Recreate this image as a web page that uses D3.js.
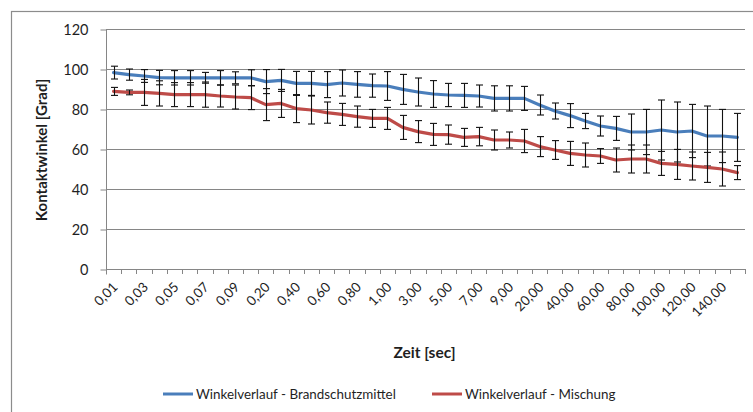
<!DOCTYPE html>
<html>
<head>
<meta charset="utf-8">
<script src="https://cdn.jsdelivr.net/npm/d3@7"></script>
<style>
  html, body { margin: 0; padding: 0; background: #fff; }
  svg { display: block; font-family: Lato, "Open Sans", sans-serif; }
</style>
</head>
<body>
<svg id="chart" width="753" height="412"></svg>
<script>
// Zeitpunkte (sec), als Kategorien
const categories = [
  "0,01","0,02","0,03","0,04","0,05","0,06","0,07","0,08","0,09","0,10",
  "0,20","0,30","0,40","0,50","0,60","0,70","0,80","0,90","1,00",
  "2,00","3,00","4,00","5,00","6,00","7,00","8,00","9,00","10,00",
  "20,00","30,00","40,00","50,00","60,00","70,00","80,00","90,00",
  "100,00","110,00","120,00","130,00","140,00","150,00"
];

// Winkelverlauf - Brandschutzmittel (Mittelwert, Standardabweichung)
const brandschutz = [
  98.2, 97.2, 96.5, 95.7, 95.6, 95.6, 95.6, 95.6, 95.6, 95.6,
  93.7, 94.3, 92.8, 92.8, 92.2, 93.0, 92.3, 91.7, 91.5,
  89.8, 88.5, 87.5, 87.0, 86.8, 86.5, 85.3, 85.3, 85.3,
  82.0, 79.0, 76.7, 74.0, 71.5, 70.3, 68.5, 68.5,
  69.5, 68.5, 69.0, 66.5, 66.5, 65.8
];
const brandschutzSd = [
  3.2, 2.8, 3.2, 3.6, 3.6, 3.6, 2.7, 3.6, 3.0, 4.0,
  6.0, 5.5, 6.0, 6.0, 6.5, 6.5, 6.4, 5.8, 7.2,
  7.5, 7.0, 6.7, 5.8, 6.0, 5.5, 6.3, 6.3, 6.0,
  5.0, 4.0, 6.0, 3.8, 5.0, 6.0, 9.0, 11.3,
  15.0, 15.0, 13.3, 15.0, 13.3, 12.0
];

// Winkelverlauf - Mischung (Mittelwert, Standardabweichung)
const mischung = [
  88.8, 88.3, 88.3, 87.8, 87.2, 87.2, 87.2, 86.5, 86.0, 85.7,
  82.2, 82.8, 80.2, 79.5, 78.2, 77.3, 76.2, 75.3, 75.3,
  70.8, 68.7, 67.3, 67.2, 65.8, 66.2, 64.5, 64.5, 64.0,
  61.2, 59.5, 57.8, 57.0, 56.5, 54.5, 55.0, 55.0,
  52.8, 52.3, 51.5, 50.8, 50.0, 48.2
];
const mischungSd = [
  2.0, 1.2, 6.5, 6.3, 6.0, 6.0, 6.3, 5.5, 6.0, 6.0,
  8.0, 7.0, 7.0, 7.0, 5.3, 5.5, 5.3, 4.5, 5.5,
  6.0, 5.5, 5.5, 4.8, 4.5, 4.6, 5.0, 4.0, 5.8,
  5.0, 4.7, 6.0, 6.0, 3.7, 6.0, 7.0, 7.0,
  6.0, 7.5, 7.0, 7.5, 8.5, 3.5
];

const yTicks = [0, 20, 40, 60, 80, 100, 120];

const seriesNames = ["Winkelverlauf - Brandschutzmittel", "Winkelverlauf - Mischung"];
const seriesColors = ["#4a7ebb", "#be4b48"];

const svg = d3.select("#chart");
const axisColor = "#868686";
const textColor = "#1f1f1f";

// Diagrammrahmen
svg.append("rect")
  .attr("x", 11.5).attr("y", 11.5)
  .attr("width", 780).attr("height", 430)
  .attr("fill", "none").attr("stroke", "#8c8c8c").attr("stroke-width", 1.2);

const plotLeft = 106, plotRight = 745, plotTop = 29, plotBottom = 269;

const x = d3.scaleBand().domain(categories).range([plotLeft, plotRight]).padding(0);
const y = d3.scaleLinear().domain([0, 120]).range([plotBottom, plotTop]);

// Gitterlinien
svg.append("g")
  .selectAll("line")
  .data(yTicks.filter(v => v > 0))
  .join("line")
  .attr("x1", plotLeft).attr("x2", plotRight)
  .attr("y1", d => Math.round(y(d)) + 0.5).attr("y2", d => Math.round(y(d)) + 0.5)
  .attr("stroke", axisColor).attr("stroke-width", 1);

// Y-Achse
const yAxis = svg.append("g")
  .attr("transform", `translate(${plotLeft + 0.5},0.5)`)
  .call(d3.axisLeft(y).tickValues(yTicks).tickSize(6).tickSizeOuter(0).tickPadding(12));
yAxis.select(".domain").attr("stroke", axisColor).attr("d", `M0,${plotTop - 0.5}V${plotBottom + 5}`);
yAxis.selectAll(".tick line").attr("stroke", axisColor);
yAxis.selectAll(".tick text")
  .attr("fill", textColor).style("font-size", "14.5px").style("font-family", "Lato, sans-serif");

// X-Achse: Teilstriche an den Kategoriegrenzen
const xg = svg.append("g");
xg.append("line")
  .attr("x1", plotLeft).attr("x2", plotRight + 1)
  .attr("y1", plotBottom + 0.5).attr("y2", plotBottom + 0.5)
  .attr("stroke", axisColor);
const boundaries = categories.map(c => x(c)).concat([x.range()[1]]);
xg.selectAll("line.tk")
  .data(boundaries)
  .join("line").attr("class", "tk")
  .attr("x1", d => Math.round(d) + 0.5).attr("x2", d => Math.round(d) + 0.5)
  .attr("y1", plotBottom).attr("y2", plotBottom + 5)
  .attr("stroke", axisColor);

// Beschriftung jeder zweiten Kategorie
xg.selectAll("text")
  .data(categories.filter((c, i) => i % 2 === 0))
  .join("text")
  .attr("transform", d => `translate(${x(d) + x.bandwidth() / 2 + 5},${plotBottom + 19}) rotate(-45)`)
  .attr("text-anchor", "end")
  .attr("fill", textColor)
  .style("font-size", "13.5px")
  .text(d => d);

// Achsentitel
svg.append("text")
  .attr("x", (plotLeft + plotRight) / 2 - 1).attr("y", 358)
  .attr("text-anchor", "middle")
  .attr("fill", textColor)
  .style("font-size", "15.5px").style("font-weight", "bold")
  .text("Zeit [sec]");

svg.append("text")
  .attr("transform", "translate(47,150) rotate(-90)")
  .attr("text-anchor", "middle")
  .attr("fill", textColor)
  .style("font-size", "15px").style("font-weight", "bold")
  .text("Kontaktwinkel [Grad]");

// Linien mit Fehlerbalken
const series = [
  { values: brandschutz, sd: brandschutzSd, color: seriesColors[0] },
  { values: mischung, sd: mischungSd, color: seriesColors[1] }
];
const cx = c => x(c) + x.bandwidth() / 2;
const line = d3.line()
  .x((d, i) => cx(categories[i]))
  .y(d => y(d));

series.forEach(s => {
  svg.append("path")
    .datum(s.values)
    .attr("d", line)
    .attr("fill", "none")
    .attr("stroke", s.color)
    .attr("stroke-width", 3.2)
    .attr("stroke-linejoin", "round")
    .attr("stroke-linecap", "round");

  const eb = svg.append("g").attr("stroke", "#111").attr("stroke-width", 1.1);
  const rows = s.values.map((v, i) => ({ c: categories[i], v, e: s.sd[i] }));
  eb.selectAll("line.v").data(rows).join("line").attr("class", "v")
    .attr("x1", d => Math.round(cx(d.c)) + 0.5).attr("x2", d => Math.round(cx(d.c)) + 0.5)
    .attr("y1", d => y(d.v + d.e)).attr("y2", d => y(d.v - d.e));
  eb.selectAll("line.t").data(rows).join("line").attr("class", "t")
    .attr("x1", d => Math.round(cx(d.c)) - 3).attr("x2", d => Math.round(cx(d.c)) + 4)
    .attr("y1", d => y(d.v + d.e)).attr("y2", d => y(d.v + d.e));
  eb.selectAll("line.b").data(rows).join("line").attr("class", "b")
    .attr("x1", d => Math.round(cx(d.c)) - 3).attr("x2", d => Math.round(cx(d.c)) + 4)
    .attr("y1", d => y(d.v - d.e)).attr("y2", d => y(d.v - d.e));
});

// Legende
const legendX = [163, 432];
const legend = svg.append("g");
seriesNames.forEach((name, i) => {
  legend.append("line")
    .attr("x1", legendX[i]).attr("x2", legendX[i] + 30)
    .attr("y1", 394).attr("y2", 394)
    .attr("stroke", seriesColors[i]).attr("stroke-width", 3);
  legend.append("text")
    .attr("x", legendX[i] + 33).attr("y", 398.5)
    .attr("fill", textColor)
    .style("font-size", "13.4px")
    .text(name);
});
</script>
</body>
</html>
